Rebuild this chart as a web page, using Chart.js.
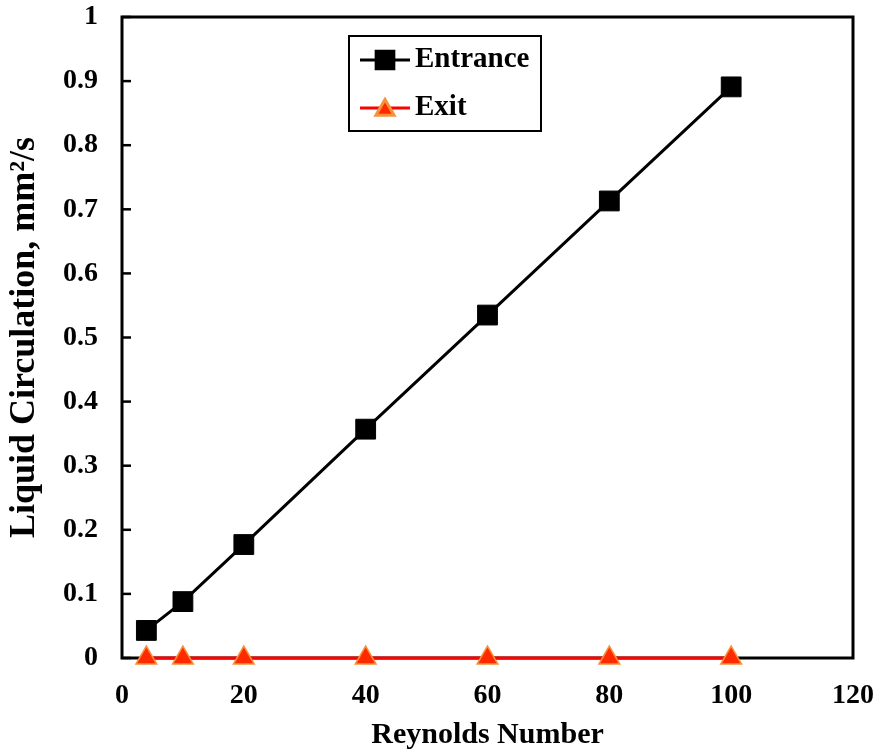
<!DOCTYPE html>
<html>
<head>
<meta charset="utf-8">
<title>Liquid Circulation vs Reynolds Number</title>
<script src="https://cdn.jsdelivr.net/npm/chart.js@4"></script>
<style>
    html, body { margin: 0; padding: 0; background: #fff; }
    #wrap { width: 879px; height: 753px; position: relative; }
</style>
</head>
<body>
<div id="wrap"><canvas id="circChart"></canvas></div>
<script>
// Reynolds numbers and circulation values (mm^2/s)
const reynolds = [4, 10, 20, 40, 60, 80, 100];
const entrance = [0.043, 0.088, 0.177, 0.357, 0.535, 0.713, 0.891];
const exitVals = [0, 0, 0, 0, 0, 0, 0];
const seriesNames = ['Entrance', 'Exit'];

const FONT = "'Liberation Serif', 'Times New Roman', serif";

function toPoints(xs, ys) {
    return xs.map((x, i) => ({ x: x, y: ys[i] }));
}

// Frame around the plot area plus inward ticks on the left axis
const framePlugin = {
    id: 'frame',
    beforeDatasetsDraw(chart) {
        const { ctx, chartArea: a, scales } = chart;
        ctx.save();
        ctx.strokeStyle = '#000';
        ctx.lineWidth = 3;
        ctx.strokeRect(a.left, a.top, a.right - a.left, a.bottom - a.top);
        ctx.lineWidth = 2.5;
        scales.y.ticks.forEach(t => {
            const py = scales.y.getPixelForValue(t.value);
            ctx.beginPath();
            ctx.moveTo(a.left, py);
            ctx.lineTo(a.left + 9, py);
            ctx.stroke();
        });
        ctx.restore();
    }
};

// Boxed legend with line + marker samples
const boxLegend = {
    id: 'boxLegend',
    afterDraw(chart) {
        const ctx = chart.ctx;
        const box = { x: 349, y: 36, w: 192, h: 95 };
        ctx.save();
        ctx.fillStyle = '#fff';
        ctx.fillRect(box.x, box.y, box.w, box.h);
        ctx.strokeStyle = '#000';
        ctx.lineWidth = 2;
        ctx.strokeRect(box.x, box.y, box.w, box.h);
        chart.data.datasets.forEach((ds, i) => {
            const cy = 60 + i * 48;
            ctx.strokeStyle = ds.borderColor;
            ctx.lineWidth = 3;
            ctx.beginPath();
            ctx.moveTo(360, cy);
            ctx.lineTo(410, cy);
            ctx.stroke();
            ctx.fillStyle = ds.pointBackgroundColor;
            ctx.strokeStyle = ds.pointBorderColor;
            Chart.helpers.drawPoint(ctx, {
                pointStyle: ds.pointStyle,
                radius: ds.pointRadius - 1.5,
                borderWidth: ds.pointBorderWidth,
                rotation: 0
            }, 385, cy + (ds.pointStyle === 'triangle' ? 2 : 0));
            ctx.fillStyle = '#000';
            ctx.font = 'bold 29px ' + FONT;
            ctx.textAlign = 'left';
            ctx.textBaseline = 'middle';
            ctx.fillText(ds.label, 415, cy);
        });
        ctx.restore();
    }
};

new Chart(document.getElementById('circChart'), {
    type: 'line',
    data: {
        datasets: [{
            label: seriesNames[0],
            data: toPoints(reynolds, entrance),
            borderColor: '#000',
            borderWidth: 3,
            pointStyle: 'rect',
            pointRadius: 14,
            pointBackgroundColor: '#000',
            pointBorderColor: '#000',
            pointBorderWidth: 1,
            clip: false
        }, {
            label: seriesNames[1],
            data: toPoints(reynolds, exitVals),
            borderColor: '#ff0000',
            borderWidth: 3,
            pointStyle: 'triangle',
            pointRadius: 12,
            pointBackgroundColor: '#ff2a00',
            pointBorderColor: '#f7923a',
            pointBorderWidth: 1.5,
            clip: false
        }]
    },
    options: {
        responsive: true,
        maintainAspectRatio: false,
        animation: false,
        layout: { padding: { top: 17, right: 26, left: 0, bottom: 0 } },
        plugins: {
            legend: { display: false },
            tooltip: { enabled: false }
        },
        scales: {
            x: {
                type: 'linear',
                min: 0,
                max: 120,
                ticks: {
                    stepSize: 20,
                    color: '#000',
                    padding: 21,
                    font: { family: FONT, size: 28, weight: 'bold' }
                },
                grid: { display: false, drawTicks: false },
                border: { display: false },
                title: {
                    display: true,
                    text: 'Reynolds Number',
                    color: '#000',
                    padding: { top: 0, bottom: 0 },
                    font: { family: FONT, size: 30, weight: 'bold' }
                },
                afterFit(scale) {
                    scale.height = 95;
                    scale.paddingLeft = 0;
                    scale.paddingRight = 0;
                }
            },
            y: {
                min: 0,
                max: 1,
                ticks: {
                    stepSize: 0.1,
                    color: '#000',
                    padding: 24,
                    font: { family: FONT, size: 28, weight: 'bold' },
                    callback: v => String(Math.round(v * 10) / 10)
                },
                grid: { display: false, drawTicks: false },
                border: { display: false },
                title: {
                    display: true,
                    text: 'Liquid Circulation, mm²/s',
                    color: '#000',
                    padding: { top: 3, bottom: 0 },
                    font: { family: FONT, size: 36, weight: 'bold' }
                },
                afterFit(scale) {
                    scale.width = 122;
                    scale.paddingTop = 0;
                    scale.paddingBottom = 0;
                }
            }
        }
    },
    plugins: [framePlugin, boxLegend]
});
</script>
</body>
</html>
